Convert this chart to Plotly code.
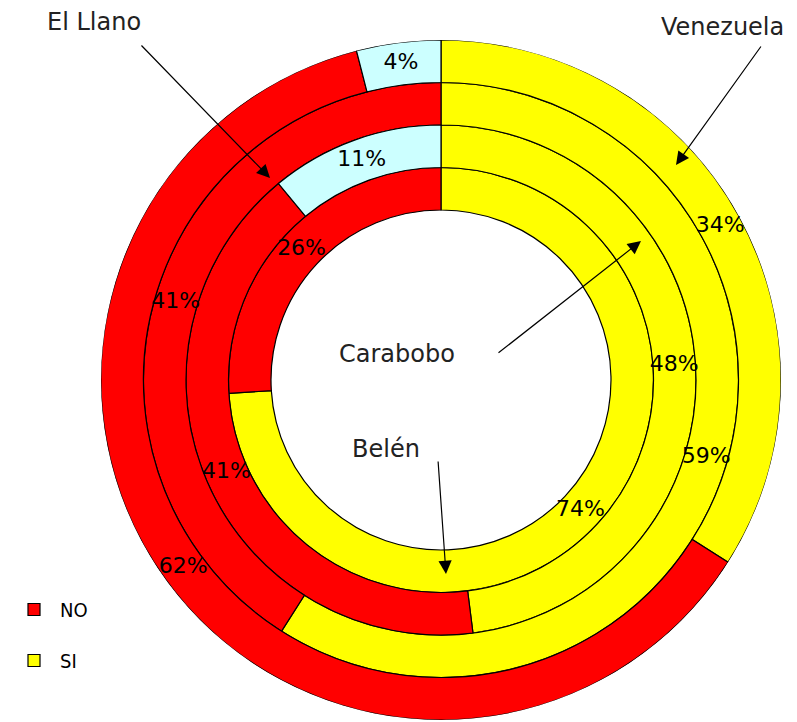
import plotly.graph_objects as go

# ---- data ----
rings = ["Belén", "Carabobo", "El Llano", "Venezuela"]   # inner -> outer
si_pct = [74, 48, 59, 34]
no_pct = [26, 41, 41, 62]
ns_pct = [0, 11, 0, 4]
series_names = ["SI", "NO", "NS/NC"]
series_colors = ["#FFFF00", "#FF0000", "#CCFFFF"]
series_in_legend = [True, True, False]
legend_rank = [2, 1, 3]

W, H = 797, 722
PAGE_OFF = 8          # default body margin of the html page
CX, CY, R = 441, 380, 340
HOLE = 4  # radial units of the central hole, each ring = 1 unit

def px(x):
    return (x - PAGE_OFF) / W

def py(y):
    return 1 - (y - PAGE_OFF) / H

fig = go.Figure()
start = [0.0] * len(rings)
lab_r, lab_t, lab_s = [], [], []
for name, vals, color, show, rank in zip(series_names, [si_pct, no_pct, ns_pct],
                                          series_colors, series_in_legend, legend_rank):
    th, wd, bs, rr = [], [], [], []
    for i, v in enumerate(vals):
        if v > 0:
            mid = (start[i] + v / 2) * 3.6
            th.append(mid)
            wd.append(v * 3.6)
            bs.append(HOLE + i)
            rr.append(1)
            lab_r.append(HOLE + i + 0.5)
            lab_t.append(mid)
            lab_s.append(f"{v}%")
        start[i] += v
    fig.add_trace(go.Barpolar(
        name=name, theta=th, width=wd, base=bs, r=rr,
        marker=dict(color=color, line=dict(color="black", width=1.2)),
        showlegend=show, legendrank=rank, legendgroup=name,
        customdata=[rings[b - HOLE] for b in bs],
        hovertemplate="%{customdata}<br>" + name + "<extra></extra>",
    ))

fig.add_trace(go.Scatterpolar(
    r=lab_r, theta=lab_t, text=lab_s, mode="text",
    textfont=dict(family="DejaVu Sans", size=22, color="black"),
    showlegend=False, hoverinfo="skip",
))

# ---- ring name callouts ----
ann_font = dict(family="DejaVu Sans", size=24, color="#222222")
callouts = [
    # text, text center, arrow tail, arrow tip
    ("El Llano", (94, 22), (140, 44), (270, 178)),
    ("Venezuela", (722, 27), (762, 45), (676, 165)),
    ("Carabobo", (397, 354), (497, 354), (641, 241)),
    ("Belén", (386, 449), (438, 460), (446, 574)),
]
annotations = []
for txt, (tx, ty), (ax_, ay_), (hx, hy) in callouts:
    annotations.append(dict(text=txt, x=px(tx), y=py(ty), xref="paper", yref="paper",
                            showarrow=False, font=ann_font, xanchor="center", yanchor="middle"))
    annotations.append(dict(text="", x=px(hx), y=py(hy), xref="paper", yref="paper",
                            ax=ax_ - hx, ay=ay_ - hy, axref="pixel", ayref="pixel",
                            showarrow=True, arrowhead=2, arrowsize=2.2, arrowwidth=1.2,
                            arrowcolor="black", standoff=0, startstandoff=0))

fig.update_layout(
    width=W, height=H,
    margin=dict(l=0, r=0, t=0, b=0, autoexpand=False),
    paper_bgcolor="white",
    polar=dict(
        domain=dict(x=[px(CX - R), px(CX + R)], y=[py(CY + R), py(CY - R)]),
        bgcolor="white",
        barmode="overlay",
        radialaxis=dict(range=[0, HOLE + len(rings)], visible=False),
        angularaxis=dict(visible=False, direction="clockwise", rotation=90),
    ),
    legend=dict(
        xref="container", yref="container", x=0.0, y=py(590), xanchor="left", yanchor="top",
        traceorder="grouped", tracegroupgap=22, itemwidth=42,
        font=dict(family="Liberation Sans Narrow, DejaVu Sans Condensed, sans-serif", size=20, color="black"),
        bgcolor="rgba(0,0,0,0)",
    ),
    annotations=annotations,
)

fig.write_html("out.html")
